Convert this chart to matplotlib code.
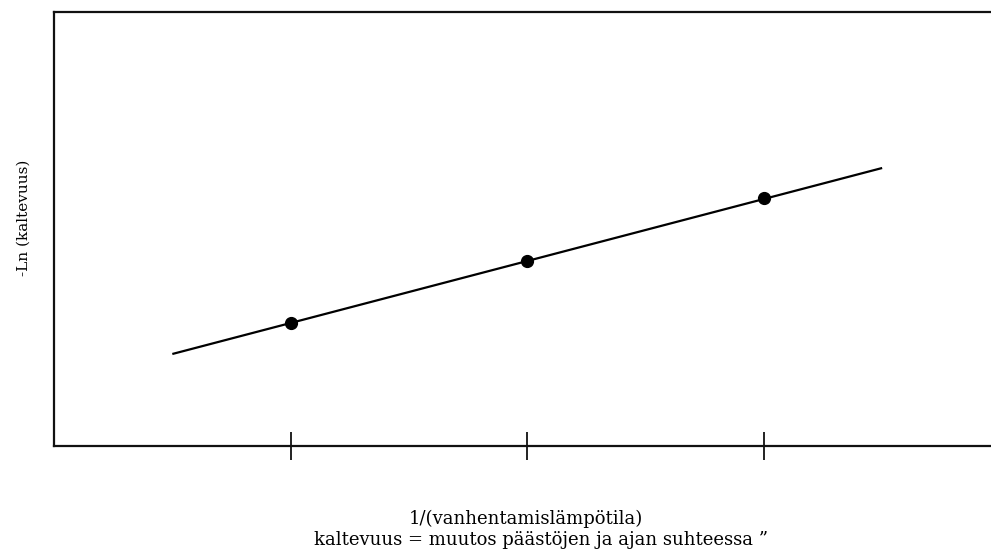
import matplotlib

matplotlib.use("Agg")
import matplotlib.pyplot as plt

# measured points (x in tick units, y in arbitrary units)
point_x = [1, 2, 3]
point_y = [123, 185, 248]

# fitted line end points
line_x = [0.5, 3.5]
line_y = [92, 278]

tick_pos = [1, 2, 3]

plt.rcParams["font.family"] = ["DejaVu Serif"]

fig = plt.figure(figsize=(9.91, 5.60), dpi=100)
ax = fig.add_axes([54 / 991, 114 / 560, 1 - 54 / 991, 434 / 560])

ax.plot(line_x, line_y, color="black", lw=1.6, solid_capstyle="butt")
ax.plot(point_x, point_y, "o", color="black", ms=8.5)

ax.set_xlim(0, 3.96)
ax.set_ylim(0, 434)
ax.set_xticks(tick_pos)
ax.set_xticklabels([])
ax.set_yticks([])
ax.tick_params(axis="x", direction="inout", length=19.5, width=1.3, color="#111111")

ax.spines["right"].set_visible(False)
for side in ("left", "top", "bottom"):
    ax.spines[side].set_linewidth(1.6)
    ax.spines[side].set_color("#111111")

fig.text(24 / 991, 1 - 218 / 560, "-Ln (kaltevuus)", rotation=90,
         ha="center", va="center", fontsize=11)
fig.text(526 / 991, 1 - 519 / 560, "1/(vanhentamislämpötila)",
         ha="center", va="center", fontsize=13)
fig.text(541 / 991, 1 - 540 / 560, "kaltevuus = muutos päästöjen ja ajan suhteessa ”",
         ha="center", va="center", fontsize=13)

fig.savefig("out.png", dpi=100)
